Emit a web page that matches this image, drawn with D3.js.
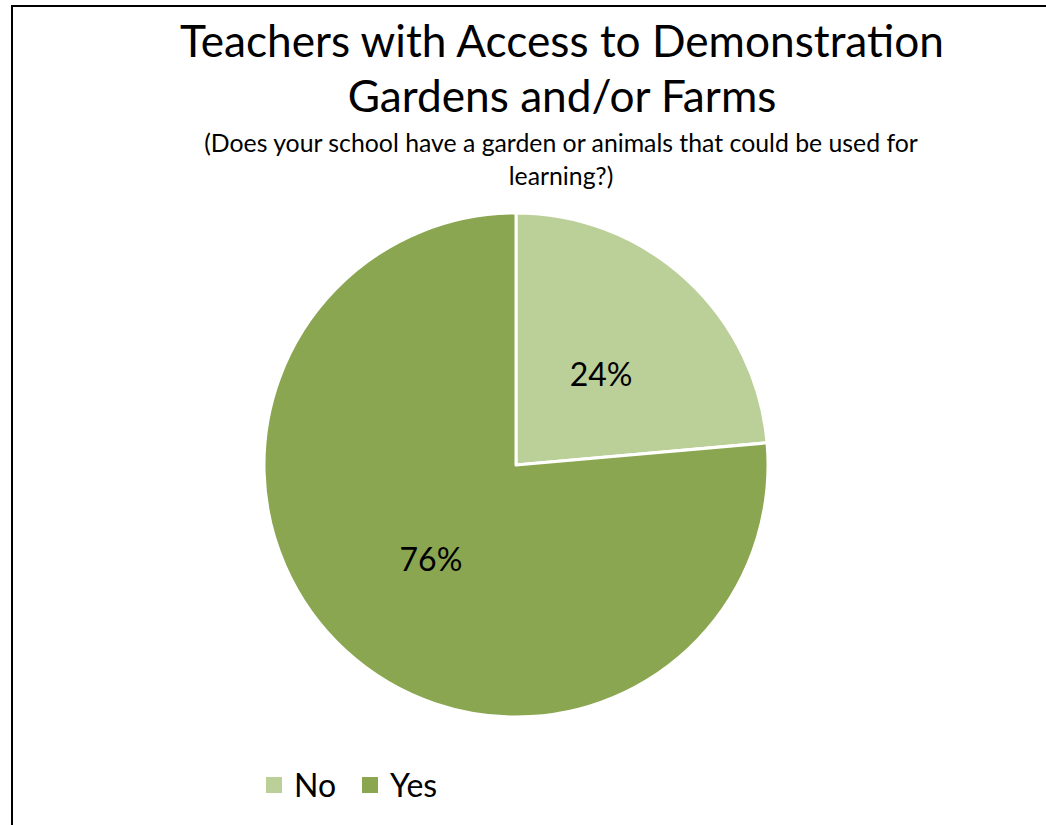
<!DOCTYPE html>
<html><head><meta charset="utf-8">
<script src="https://cdn.jsdelivr.net/npm/d3@7"></script>
<style>body{margin:0;background:#fff}svg{display:block}</style>
</head><body>
<svg id="c" width="1046" height="825"></svg>
<script>
const categories = ["No", "Yes"];
const values = [23.6, 76.4];
const colors = ["#BBCF98", "#8BA650"];
const titleLines = ["Teachers with Access to Demonstration", "Gardens and/or Farms"];
const subtitleLines = ["(Does your school have a garden or animals that could be used for", "learning?)"];

const svg = d3.select("#c");
const font = "Lato, 'Open Sans', sans-serif";

// border
svg.append("path").attr("d", "M12,830 L12,6 L1050,6").attr("fill", "none").attr("stroke", "#000").attr("stroke-width", 2);

const cx = 516, cy = 465, r = 252;
const pie = d3.pie().sort(null).value(d => d)(values);
const arc = d3.arc().innerRadius(0).outerRadius(r);
const g = svg.append("g").attr("transform", `translate(${cx},${cy})`);
g.selectAll("path").data(pie).join("path")
  .attr("d", arc).attr("fill", (d, i) => colors[i])
  .attr("stroke", "#fff").attr("stroke-width", 3).attr("stroke-linejoin", "round");

const lab = d3.arc().innerRadius(r * 0.5).outerRadius(r * 0.5);
g.selectAll("text").data(pie).join("text")
  .attr("transform", d => `translate(${lab.centroid(d)})`)
  .attr("text-anchor", "middle").attr("dy", "0.42em")
  .attr("font-family", font).attr("font-size", 32).attr("fill", "#000")
  .text(d => Math.round(d.data) + "%");

function fitText(sel, target) {
  const w = sel.node().getComputedTextLength();
  const fs = parseFloat(sel.attr("font-size"));
  sel.attr("font-size", fs * target / w);
}
const t1 = svg.append("text").attr("x", 562).attr("y", 57).attr("text-anchor", "middle")
  .attr("font-family", font).attr("font-size", 40).text(titleLines[0]);
fitText(t1, 764);
const t2 = svg.append("text").attr("x", 562).attr("y", 112).attr("text-anchor", "middle")
  .attr("font-family", font).attr("font-size", t1.attr("font-size")).text(titleLines[1]);
const s1 = svg.append("text").attr("x", 561).attr("y", 152).attr("text-anchor", "middle")
  .attr("font-family", font).attr("font-size", 20).text(subtitleLines[0]);
fitText(s1, 714);
svg.append("text").attr("x", 561).attr("y", 185).attr("text-anchor", "middle")
  .attr("font-family", font).attr("font-size", s1.attr("font-size")).text(subtitleLines[1]);

// legend
const legX = [266, 362];
const lg = svg.append("g");
categories.forEach((c, i) => {
  lg.append("rect").attr("x", legX[i]).attr("y", 777).attr("width", 16).attr("height", 16).attr("fill", colors[i]);
  lg.append("text").attr("x", legX[i] + 28).attr("y", 797).attr("font-family", font)
    .attr("font-size", 32).text(c);
});
</script>
</body></html>
